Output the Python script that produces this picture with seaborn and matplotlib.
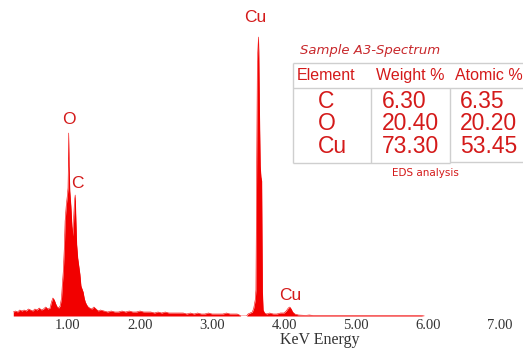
import numpy as np
import matplotlib
matplotlib.use('Agg')
import matplotlib.pyplot as plt
import seaborn as sns

# Dane widma EDS
energy = [0.24, 0.27, 0.30, 0.33, 0.36, 0.39, 0.42, 0.45, 0.48, 0.51, 0.54, 0.57, 0.60,
          0.63, 0.66, 0.69, 0.72, 0.75, 0.77, 0.79, 0.81, 0.83, 0.85, 0.87, 0.89, 0.91,
          0.92, 0.935, 0.95, 0.96, 0.975, 0.99, 1.00, 1.005, 1.01, 1.015, 1.025, 1.04,
          1.055, 1.07, 1.08, 1.09, 1.10, 1.11, 1.12, 1.135, 1.15, 1.165, 1.18, 1.195,
          1.21, 1.225, 1.24, 1.26, 1.28, 1.30, 1.33, 1.36, 1.39, 1.42, 1.45, 1.50, 1.55,
          1.60, 1.65, 1.70, 1.75, 1.80, 1.85, 1.90, 1.95, 2.00, 2.05, 2.10, 2.15, 2.20,
          2.25, 2.30, 2.35, 2.40, 2.45, 2.50, 2.55, 2.60, 2.65, 2.70, 2.75, 2.80, 2.85,
          2.90, 2.95, 3.00, 3.05, 3.10, 3.15, 3.20, 3.25, 3.30, 3.35, 3.38, 3.40, 3.48,
          3.50, 3.53, 3.56, 3.58, 3.60, 3.61, 3.62, 3.63, 3.64, 3.645, 3.65, 3.66, 3.67,
          3.68, 3.69, 3.70, 3.71, 3.73, 3.76, 3.80, 3.85, 3.90, 3.95, 4.00, 4.03, 4.06,
          4.08, 4.10, 4.12, 4.15, 4.20, 4.30, 4.35, 4.40, 4.50, 4.60, 4.70, 4.80, 4.90,
          5.00, 5.10, 5.20, 5.30, 5.40, 5.50, 5.60, 5.70, 5.80, 5.90, 5.95]
counts = [4, 5, 4, 6, 5, 6, 5, 7, 6, 5, 7, 6, 8,
          6, 7, 9, 7, 8, 14, 18, 16, 12, 9, 8, 10, 18,
          30, 45, 70, 95, 110, 120, 128, 150, 183, 150, 125, 110,
          90, 80, 100, 115, 121, 95, 72, 58, 50, 42, 30, 27,
          24, 18, 14, 11, 9, 8, 7, 9, 7, 5, 6, 5, 4,
          5, 4, 4, 5, 4, 5, 4, 4, 5, 4, 4, 4, 3,
          4, 3, 4, 3, 3, 3, 3, 3, 2, 3, 2, 3, 2,
          2, 3, 2, 2, 2, 2, 3, 2, 2, 2, 1, 0, 0,
          2, 3, 4, 8, 16, 26, 150, 255, 270, 279, 265, 200, 150,
          139, 135, 25, 6, 3, 2, 3, 2, 2, 3, 3, 5, 8,
          9, 7, 4, 2, 1, 0.6, 1, 0.6, 0.6, 0.6, 0.6, 0.6, 0.6,
          0.6, 0.6, 0.6, 0.6, 0.6, 0.6, 0.6, 0.6, 0.6, 0.6, 0]

# Etykiety pików
peak_labels = ['Cu', 'O', 'C', 'Cu']
peak_energy = [3.60, 1.01, 1.13, 4.08]
peak_height = [298, 196, 133, 21]

# Tabela
title = 'Sample A3-Spectrum'
columns = ['Element', 'Weight %', 'Atomic %']
elements = ['C', 'O', 'Cu']
weight = ['6.30', '20.40', '73.30']
atomic = ['6.35', '20.20', '53.45']

ticks = [1, 2, 3, 4, 5, 6, 7]
tick_labels = ['1.00', '2.00', '3.00', '4.00', '5.00', '6.00', '7.00']

sns.set_theme(style='white')
plt.rcParams['font.family'] = ['Liberation Sans', 'DejaVu Sans']

W, H = 523, 350
fig = plt.figure(figsize=(W / 100, H / 100), dpi=100)
ax = fig.add_axes([0, 34 / H, 1, 316 / H])

red = '#f20000'
txt_red = '#d41a1a'

ax.fill_between(energy, counts, color=red, linewidth=0)
sns.lineplot(x=energy, y=counts, color=red, linewidth=0.4, ax=ax)

for lab, e, h in zip(peak_labels, peak_energy, peak_height):
    ax.text(e, h, lab, color=txt_red, fontsize=12.5, ha='center', va='center')

ax.set_xlim(4 / 72, 527 / 72)
ax.set_ylim(0, 316)
ax.set_yticks([])
ax.set_xticks(ticks)
ax.set_xticklabels(tick_labels, fontfamily='Liberation Serif', fontsize=10.5, color='#333333')
ax.tick_params(axis='x', length=0, pad=2.5)
for s in ax.spines.values():
    s.set_visible(False)
ax.patch.set_alpha(0)

fig.text(320 / W, 1 - 340 / H, 'KeV Energy', fontfamily='Liberation Serif', fontsize=11.5,
         color='#333333', ha='center', va='center')

# Tabela w pikselach
ov = fig.add_axes([0, 0, 1, 1])
ov.set_xlim(0, W)
ov.set_ylim(H, 0)
ov.axis('off')
ov.patch.set_alpha(0)

grey = '#cfcfcf'
ov.hlines([63, 88], 292.5, W, color=grey, linewidth=1)
ov.hlines(163, 292.5, 449.5, color=grey, linewidth=1)
ov.hlines(162, 449.5, W, color=grey, linewidth=1)
ov.vlines(292.5, 63, 163, color=grey, linewidth=1)
ov.vlines([370.5, 449.5], 88, 163, color=grey, linewidth=1)

ov.text(300, 50.5, title, family='DejaVu Sans', style='italic', fontsize=9.5,
        color='#c8282c', ha='left', va='center')
for x, c in zip([296.5, 376.5, 455], columns):
    ov.text(x, 75.5, c, fontsize=11.5, color=txt_red, ha='left', va='center')
for x, col in zip([318, 381.5, 460], [elements, weight, atomic]):
    ov.text(x, 124, '\n'.join(col), fontsize=16.5, color=txt_red, ha='left', va='center',
            linespacing=0.97)
ov.text(391.5, 172.5, 'EDS analysis', family='DejaVu Sans', fontsize=7.5,
        color=txt_red, ha='left', va='center')

fig.savefig('out.png', dpi=100)
